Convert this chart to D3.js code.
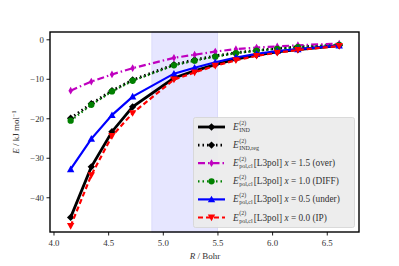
<!DOCTYPE html>
<html lang="en">
<head>
<meta charset="UTF-8">
<title>Induction energies</title>
<style>
  body { margin: 0; background: #fff; }
  svg { display: block; font-family: "Liberation Serif", "DejaVu Serif", serif; }
</style>
</head>
<body>
<svg id="chart" width="399" height="266"></svg>
<script src="https://d3js.org/d3.v7.min.js"></script>
<script>
// R in Bohr
const R = [4.157, 4.346, 4.535, 4.724, 5.102, 5.291, 5.480, 5.669, 5.858, 6.047, 6.236, 6.614];

const indE    = [-45.1, -32.3, -23.4, -17.1, -9.8, -8.0, -6.4, -5.0, -4.0, -3.2, -2.6, -1.6];
const indReg  = [-20.0, -16.3, -13.0, -10.3, -6.4, -5.2, -4.2, -3.4, -2.8, -2.3, -1.9, -1.4];
const over    = [-13.0, -10.7, -8.9, -7.3, -4.7, -3.9, -3.1, -2.5, -2.1, -1.8, -1.5, -1.1];
const diff    = [-20.6, -16.6, -13.2, -10.5, -6.6, -5.4, -4.4, -3.5, -2.9, -2.4, -2.0, -1.4];
const under   = [-32.9, -25.2, -19.2, -14.5, -8.7, -7.2, -5.8, -4.6, -3.7, -3.0, -2.5, -1.6];
const ip      = [-47.3, -34.4, -24.5, -18.7, -10.2, -8.4, -6.7, -5.3, -4.2, -3.4, -2.7, -1.7];

const xTicks = [4.0, 4.5, 5.0, 5.5, 6.0, 6.5];
const yTicks = [0, -10, -20, -30, -40];
const span = [4.9, 5.5];

const series = [
  { sub: "IND", rest: "", values: indE, color: "#000", dash: null, width: 2.8, marker: "D" },
  { sub: "IND,reg", rest: "", values: indReg, color: "#000", dash: "1.5,3", width: 2.8, marker: "D" },
  { sub: "pol,cl", rest: "1.5 (over)", values: over, color: "#bf00bf", dash: "7,3,1.5,3", width: 2.2, marker: "d" },
  { sub: "pol,cl", rest: "1.0 (DIFF)", values: diff, color: "#008000", dash: "1.5,3", width: 2.2, marker: "o" },
  { sub: "pol,cl", rest: "0.5 (under)", values: under, color: "#0000ff", dash: null, width: 2.2, marker: "^" },
  { sub: "pol,cl", rest: "0.0 (IP)", values: ip, color: "#ff0000", dash: "5,3", width: 2.2, marker: "v" }
];

const svg = d3.select("#chart");
const L = 50, T = 32, Rr = 359, B = 232;

const x = d3.scaleLinear().domain([3.968, 6.795]).range([L, Rr]);
const y = d3.scaleLinear().domain([-48.8, 1.85]).range([B, T]);

svg.append("defs").append("clipPath").attr("id", "clip")
  .append("rect").attr("x", L).attr("y", T).attr("width", Rr - L).attr("height", B - T);

// shaded region
svg.append("rect")
  .attr("x", x(span[0])).attr("y", T)
  .attr("width", x(span[1]) - x(span[0])).attr("height", B - T)
  .attr("fill", "#e6e6ff").attr("stroke", "#d6d6fb").attr("stroke-width", 0.8);

function markerPath(type, s) {
  if (type === "D") return `M0,${-s}L${s},0L0,${s}L${-s},0Z`;
  if (type === "d") return `M0,${-s * 1.05}L${s * 0.6},0L0,${s * 1.05}L${-s * 0.6},0Z`;
  if (type === "^") return `M0,${-s}L${s},${s * 0.8}L${-s},${s * 0.8}Z`;
  if (type === "v") return `M0,${s}L${s},${-s * 0.8}L${-s},${-s * 0.8}Z`;
  return null;
}

function drawMarker(g, type, color, cx, cy, size) {
  if (type === "o") {
    g.append("circle").attr("cx", cx).attr("cy", cy).attr("r", size * 0.85).attr("fill", color);
  } else {
    g.append("path").attr("d", markerPath(type, size))
      .attr("transform", `translate(${cx},${cy})`).attr("fill", color);
  }
}

const plot = svg.append("g").attr("clip-path", "url(#clip)");
const line = d3.line().x((d, i) => x(R[i])).y(d => y(d));

series.forEach(s => {
  const g = plot.append("g");
  g.append("path").datum(s.values)
    .attr("d", line)
    .attr("fill", "none")
    .attr("stroke", s.color)
    .attr("stroke-width", s.width)
    .attr("stroke-dasharray", s.dash);
  s.values.forEach((v, i) => drawMarker(g, s.marker, s.color, x(R[i]), y(v), 3.7));
});

// frame
svg.append("rect").attr("x", L).attr("y", T).attr("width", Rr - L).attr("height", B - T)
  .attr("fill", "none").attr("stroke", "#000").attr("stroke-width", 1.4);

// axes
const xAxis = svg.append("g").attr("transform", `translate(0,${B})`)
  .call(d3.axisBottom(x).tickValues(xTicks).tickFormat(d3.format(".1f")).tickSize(3.5).tickSizeOuter(0));
const yAxis = svg.append("g").attr("transform", `translate(${L},0)`)
  .call(d3.axisLeft(y).tickValues(yTicks).tickFormat(d => d === 0 ? "0" : "\u2212" + Math.abs(d)).tickSize(3.5).tickSizeOuter(0));
[xAxis, yAxis].forEach(a => {
  a.select(".domain").remove();
  a.selectAll(".tick line").attr("stroke", "#000").attr("stroke-width", 0.9);
  a.selectAll(".tick text").attr("font-family", "'Liberation Serif', serif").attr("font-size", 8.8).attr("fill", "#333");
});
xAxis.selectAll(".tick text").attr("dy", "0.9em");
yAxis.selectAll(".tick text").attr("x", -6);

// axis labels
const xl = svg.append("text").attr("x", 205).attr("y", 259).attr("text-anchor", "middle")
  .attr("font-size", 9).attr("fill", "#333");
xl.append("tspan").attr("font-style", "italic").text("R");
xl.append("tspan").text(" / Bohr");

const yl = svg.append("text").attr("transform", "translate(19,132) rotate(-90)")
  .attr("text-anchor", "middle").attr("font-size", 9).attr("fill", "#333");
yl.append("tspan").attr("font-style", "italic").text("E");
yl.append("tspan").text(" / kJ mol");
yl.append("tspan").attr("font-size", 6.2).attr("dy", -3.5).text("\u22121");

// legend
const lg = svg.append("g");
lg.append("rect").attr("x", 193.5).attr("y", 117.5).attr("width", 161).attr("height", 110)
  .attr("rx", 2).attr("fill", "#ebebeb").attr("fill-opacity", 0.92).attr("stroke", "#d3d3d3").attr("stroke-width", 0.8);

series.forEach((s, i) => {
  const cy = 127 + i * 18.1;
  lg.append("line").attr("x1", 198).attr("x2", 225).attr("y1", cy).attr("y2", cy)
    .attr("stroke", s.color).attr("stroke-width", s.width).attr("stroke-dasharray", s.dash);
  drawMarker(lg, s.marker, s.color, 211.5, cy, 3.7);

  const tx = 233;
  const base = cy + 3;
  const t = lg.append("text").attr("x", tx).attr("y", base).attr("font-size", 9.3).attr("fill", "#333")
    .attr("font-style", "italic").text("E");
  const ew = t.node().getComputedTextLength();
  lg.append("text").attr("x", tx + ew + 0.5).attr("y", base - 5.5).attr("font-size", 6).attr("fill", "#333").text("(2)");
  const sb = lg.append("text").attr("x", tx + ew + 0.5).attr("y", base + 2).attr("font-size", 6).attr("fill", "#333").text(s.sub);
  if (s.rest) {
    const sx = tx + ew + 1.5 + sb.node().getComputedTextLength();
    const r = lg.append("text").attr("x", sx).attr("y", base).attr("font-size", 9.3).attr("fill", "#333");
    r.append("tspan").text("[L3pol]  ");
    r.append("tspan").attr("font-style", "italic").text("x");
    r.append("tspan").text(" = " + s.rest);
  }
});
</script>
</body>
</html>
